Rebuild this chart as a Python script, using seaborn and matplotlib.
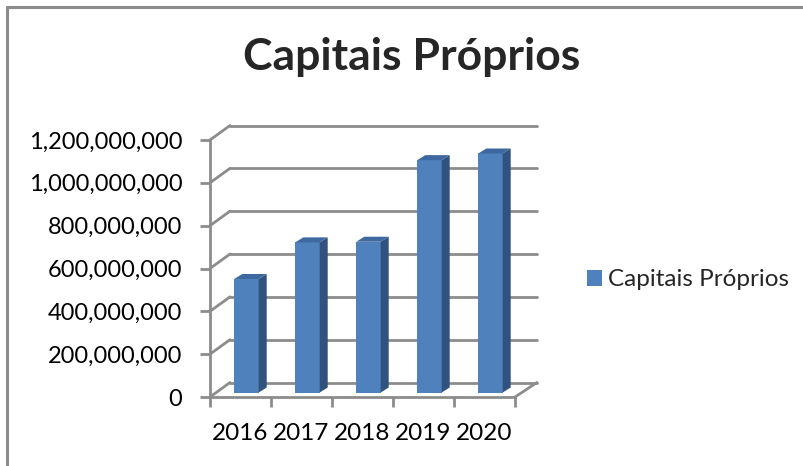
import numpy as np
import pandas as pd
import matplotlib
matplotlib.use("Agg")
import matplotlib.pyplot as plt
import seaborn as sns
from matplotlib.patches import Polygon
from matplotlib.lines import Line2D
from matplotlib.ticker import FuncFormatter

# data
years = ["2016", "2017", "2018", "2019", "2020"]
capitais = [530e6, 701e6, 704e6, 1085e6, 1116e6]
series_name = "Capitais Próprios"
yticks = [0, 200e6, 400e6, 600e6, 800e6, 1000e6, 1200e6]

df = pd.DataFrame({"Ano": years, "Valor": capitais, "Serie": series_name})

sns.set_style("white")
plt.rcParams["font.family"] = ["Lato", "DejaVu Sans"]

W, H = 804, 466
fig = plt.figure(figsize=(W / 100, H / 100), dpi=100)
# front plane of the pseudo-3D plot area, in pixels
ax_l, ax_b, ax_w, ax_h = 210, 69, 305, 257
ax = fig.add_axes([ax_l / W, ax_b / H, ax_w / W, ax_h / H])
ax.set_xlim(-0.5, len(years) - 0.5)
ax.set_ylim(0, 1200e6)

# pixel -> data unit helpers
px_x = (len(years)) / ax_w
px_y = 1200e6 / ax_h

grid_col = "#8c8c8c"
front_col = "#4f81bd"
side_col = "#30527f"
top_col = "#3d69a0"

# back wall offset and bar offset (in pixels)
wall_dx, wall_dy = 20, 14.5
bar_dx, bar_dy = 6, 4.5
depth_dx, depth_dy = 8, 5

# back wall gridlines + left diagonal connectors
x0, x1 = -0.5, len(years) - 0.5
for t in yticks:
    ax.plot([x0 + wall_dx * px_x, x1 + (wall_dx + 2) * px_x],
            [t + wall_dy * px_y, t + wall_dy * px_y],
            color=grid_col, lw=2, clip_on=False, zorder=1)
    ax.plot([x0, x0 + wall_dx * px_x], [t, t + wall_dy * px_y],
            color=grid_col, lw=2, clip_on=False, zorder=1)
# floor right diagonal
ax.plot([x1, x1 + (wall_dx + 2) * px_x], [0, wall_dy * px_y],
        color=grid_col, lw=2, clip_on=False, zorder=1)

# bars
sns.barplot(data=df, x="Ano", y="Valor", hue="Serie", ax=ax, width=0.4,
            palette=[front_col], saturation=1, edgecolor="none", zorder=3,
            legend=False)

for p in ax.patches:
    p.set_x(p.get_x() + bar_dx * px_x)
    p.set_y(p.get_y() + bar_dy * px_y)
    xl = p.get_x()
    xr = xl + p.get_width()
    yb = p.get_y()
    yt = yb + p.get_height()
    ddx, ddy = depth_dx * px_x, depth_dy * px_y
    side = Polygon([(xr, yb), (xr, yt), (xr + ddx, yt + ddy), (xr + ddx, yb + ddy)],
                   closed=True, facecolor=side_col, edgecolor="none",
                   zorder=3, clip_on=False)
    top = Polygon([(xl, yt), (xr, yt), (xr + ddx, yt + ddy), (xl + ddx, yt + ddy)],
                  closed=True, facecolor=top_col, edgecolor="none",
                  zorder=3, clip_on=False)
    ax.add_patch(side)
    ax.add_patch(top)
    p.set_clip_on(False)

# axes styling
for s in ["top", "right"]:
    ax.spines[s].set_visible(False)
for s in ["left", "bottom"]:
    ax.spines[s].set_color(grid_col)
    ax.spines[s].set_linewidth(2)
    ax.spines[s].set_zorder(2)

ax.set_yticks(yticks)
ax.yaxis.set_major_formatter(FuncFormatter(lambda v, pos: f"{v:,.0f}"))
ax.set_xticks(range(len(years)))
ax.set_xticklabels(years)
ax.set_xticks(np.arange(-0.5, len(years)), minor=True)
ax.tick_params(axis="y", which="major", left=True, length=7, width=2,
               color=grid_col, labelsize=17, pad=13, labelcolor="black")
ax.tick_params(axis="x", which="major", bottom=False, labelsize=17.5, pad=15,
               labelcolor="black")
ax.tick_params(axis="x", which="minor", bottom=True, length=7, width=2,
               color=grid_col)
ax.set_xlabel("")
ax.set_ylabel("")

# title
fig.text(412 / W, 1 - 57 / H, series_name, ha="center", va="center",
         fontsize=32, fontweight="bold")

# legend
handle = plt.Rectangle((0, 0), 1, 1, facecolor=front_col, edgecolor="none")
fig.legend([handle], [series_name], loc="center left",
           bbox_to_anchor=(565 / W, 1 - 280 / H), frameon=False,
           fontsize=17.5, handlelength=0.62, handleheight=0.62,
           handletextpad=0.25)

# chart border (left and top)
fig.add_artist(Line2D([7 / W, 7 / W], [0, 1 - 7 / H], color="#8c8c8c", lw=2.2))
fig.add_artist(Line2D([7 / W, 1], [1 - 7 / H, 1 - 7 / H], color="#8c8c8c", lw=2.2))

fig.savefig("out.png", dpi=100)
